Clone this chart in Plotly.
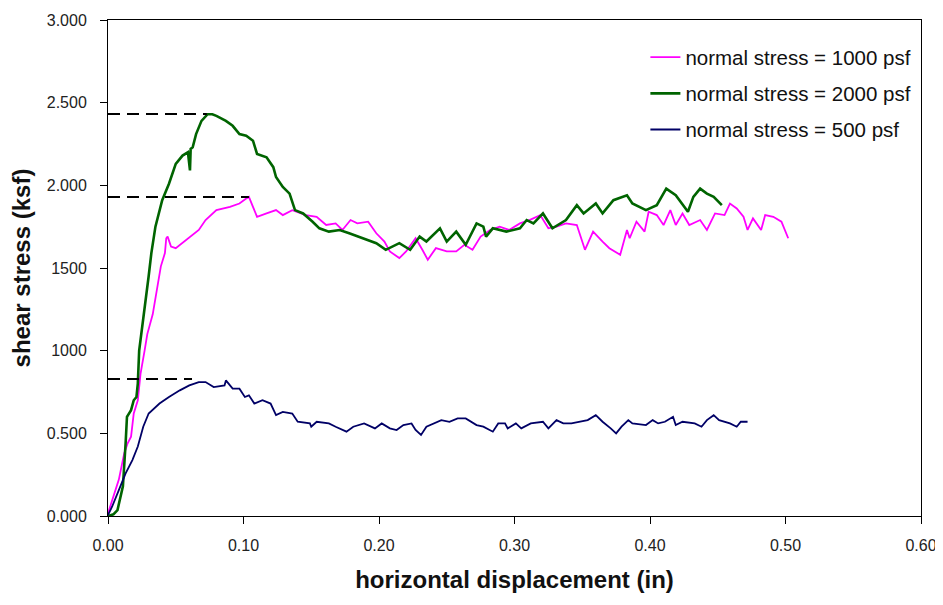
import plotly.graph_objects as go

# ---------------- data ----------------
series_names = ["normal stress = 1000 psf", "normal stress = 2000 psf", "normal stress = 500 psf"]
series_colors = ["#FF00FF", "#006400", "#000066"]

x_1000 = [0, 0.005, 0.008, 0.012, 0.0145, 0.017, 0.019, 0.022, 0.024, 0.027, 0.029, 0.033, 0.035,
          0.039, 0.042, 0.043, 0.044, 0.0465, 0.050, 0.058, 0.067, 0.072, 0.080, 0.090, 0.097,
          0.102, 0.104, 0.107, 0.110, 0.117, 0.124, 0.129, 0.136, 0.146, 0.154, 0.161, 0.168,
          0.173, 0.179, 0.184, 0.192, 0.198, 0.204, 0.208, 0.215, 0.220, 0.227, 0.232, 0.236,
          0.242, 0.250, 0.257, 0.263, 0.269, 0.275, 0.282, 0.289, 0.296, 0.304, 0.311, 0.319,
          0.325, 0.331, 0.338, 0.346, 0.352, 0.358, 0.365, 0.370, 0.378, 0.383, 0.385, 0.390,
          0.396, 0.399, 0.405, 0.410, 0.415, 0.419, 0.424, 0.429, 0.437, 0.442, 0.448, 0.455,
          0.459, 0.464, 0.469, 0.472, 0.476, 0.482, 0.485, 0.491, 0.497, 0.502]
y_1000 = [0.016, 0.14, 0.22, 0.38, 0.44, 0.48, 0.62, 0.70, 0.86, 1.00, 1.10, 1.22, 1.31,
          1.51, 1.59, 1.68, 1.69, 1.63, 1.62, 1.67, 1.73, 1.79, 1.85, 1.87, 1.89,
          1.92, 1.93, 1.87, 1.81, 1.83, 1.85, 1.82, 1.85, 1.82, 1.81, 1.76, 1.77,
          1.73, 1.79, 1.77, 1.78, 1.71, 1.66, 1.60, 1.56, 1.60, 1.68, 1.61, 1.55,
          1.62, 1.60, 1.60, 1.64, 1.61, 1.69, 1.73, 1.75, 1.73, 1.77, 1.79, 1.82,
          1.74, 1.75, 1.77, 1.76, 1.61, 1.72, 1.66, 1.62, 1.58, 1.73, 1.68, 1.78,
          1.72, 1.84, 1.82, 1.76, 1.85, 1.76, 1.83, 1.76, 1.79, 1.73, 1.83, 1.82,
          1.89, 1.86, 1.81, 1.73, 1.80, 1.73, 1.82, 1.81, 1.78, 1.68]

x_2000 = [0, 0.004, 0.007, 0.009, 0.011, 0.013, 0.014, 0.017, 0.019, 0.021, 0.022, 0.023, 0.026,
          0.028, 0.030, 0.032, 0.035, 0.040, 0.045, 0.050, 0.055, 0.059, 0.0605, 0.061, 0.0625,
          0.065, 0.069, 0.0735, 0.077, 0.080, 0.087, 0.092, 0.097, 0.102, 0.107, 0.110, 0.117,
          0.122, 0.124, 0.129, 0.134, 0.138, 0.144, 0.151, 0.156, 0.163, 0.171, 0.178, 0.188,
          0.198, 0.205, 0.215, 0.223, 0.230, 0.235, 0.245, 0.250, 0.257, 0.264, 0.272, 0.277,
          0.279, 0.284, 0.294, 0.304, 0.309, 0.314, 0.321, 0.328, 0.338, 0.346, 0.351, 0.360,
          0.365, 0.373, 0.383, 0.387, 0.397, 0.405, 0.412, 0.419, 0.428, 0.432, 0.437, 0.442,
          0.447, 0.453]
y_2000 = [0, 0.01, 0.036, 0.10, 0.18, 0.44, 0.60, 0.64, 0.70, 0.72, 0.80, 1.00, 1.18,
          1.31, 1.45, 1.59, 1.75, 1.91, 2.01, 2.13, 2.18, 2.20, 2.09, 2.22, 2.23,
          2.31, 2.39, 2.43, 2.43, 2.42, 2.39, 2.36, 2.31, 2.30, 2.27, 2.19, 2.17,
          2.11, 2.05, 1.99, 1.95, 1.85, 1.83, 1.78, 1.74, 1.72, 1.73, 1.71, 1.68,
          1.65, 1.61, 1.65, 1.61, 1.69, 1.66, 1.74, 1.66, 1.72, 1.64, 1.77, 1.75,
          1.69, 1.74, 1.72, 1.74, 1.79, 1.77, 1.83, 1.74, 1.79, 1.88, 1.83, 1.89,
          1.83, 1.91, 1.94, 1.89, 1.85, 1.88, 1.98, 1.94, 1.84, 1.93, 1.98, 1.95,
          1.93, 1.88]

x_500 = [0, 0.003, 0.008, 0.013, 0.018, 0.022, 0.026, 0.030, 0.038, 0.045, 0.053, 0.060, 0.067,
         0.072, 0.078, 0.086, 0.087, 0.092, 0.097, 0.101, 0.104, 0.108, 0.114, 0.120, 0.124,
         0.129, 0.136, 0.140, 0.149, 0.150, 0.154, 0.163, 0.168, 0.176, 0.181, 0.189, 0.197,
         0.202, 0.208, 0.213, 0.218, 0.224, 0.227, 0.231, 0.235, 0.241, 0.246, 0.252, 0.258,
         0.264, 0.272, 0.277, 0.284, 0.288, 0.293, 0.295, 0.301, 0.305, 0.312, 0.321, 0.325,
         0.331, 0.336, 0.342, 0.348, 0.354, 0.360, 0.365, 0.371, 0.375, 0.379, 0.384, 0.387,
         0.397, 0.402, 0.406, 0.411, 0.417, 0.419, 0.424, 0.433, 0.438, 0.442, 0.447, 0.451,
         0.459, 0.464, 0.467, 0.472]
y_500 = [0.006, 0.056, 0.157, 0.258, 0.338, 0.42, 0.54, 0.62, 0.68, 0.72, 0.76, 0.79, 0.81,
         0.81, 0.78, 0.79, 0.82, 0.77, 0.77, 0.72, 0.73, 0.68, 0.70, 0.68, 0.61,
         0.63, 0.62, 0.57, 0.56, 0.54, 0.57, 0.56, 0.54, 0.51, 0.54, 0.56, 0.53,
         0.56, 0.53, 0.52, 0.55, 0.56, 0.52, 0.49, 0.54, 0.56, 0.58, 0.57, 0.59,
         0.59, 0.55, 0.54, 0.51, 0.56, 0.56, 0.53, 0.56, 0.53, 0.56, 0.57, 0.53,
         0.58, 0.56, 0.56, 0.57, 0.58, 0.61, 0.57, 0.53, 0.50, 0.54, 0.58, 0.56,
         0.55, 0.58, 0.56, 0.57, 0.60, 0.55, 0.57, 0.56, 0.54, 0.58, 0.61, 0.58,
         0.56, 0.54, 0.57, 0.57]

# peak (dashed) reference lines: level and end displacement
peak_levels = [1.929, 2.431, 0.828]
peak_ends = [0.104, 0.073, 0.062]

x_tick_vals = [0, 0.1, 0.2, 0.3, 0.4, 0.5, 0.6]
x_tick_text = ["0.00", "0.10", "0.20", "0.30", "0.40", "0.50", "0.60"]
y_tick_vals = [0, 0.5, 1.0, 1.5, 2.0, 2.5, 3.0]
y_tick_text = ["0.000", "0.500", "1000", "1500", "2.000", "2.500", "3.000"]

# ---------------- figure ----------------
fig = go.Figure()

xs = [x_1000, x_2000, x_500]
ys = [y_1000, y_2000, y_500]
widths = [1.8, 2.6, 1.8]

for i in range(3):
    fig.add_trace(go.Scatter(
        x=xs[i], y=ys[i], mode="lines", name=series_names[i],
        line=dict(color=series_colors[i], width=widths[i]),
        legendgroup=f"g{i}",
    ))

for lvl, xe in zip(peak_levels, peak_ends):
    fig.add_trace(go.Scatter(
        x=[0, xe], y=[lvl, lvl], mode="lines", showlegend=False,
        line=dict(color="black", width=2, dash="12px,7px"),
    ))

FONT = "Liberation Sans, Arial, sans-serif"

fig.update_layout(
    width=943, height=605,
    margin=dict(l=100, r=30, t=12, b=97),
    paper_bgcolor="white", plot_bgcolor="white",
    font=dict(family=FONT, color="#222"),
    showlegend=True,
    legend=dict(
        x=0.661, y=0.965, xanchor="left", yanchor="top",
        bgcolor="white", borderwidth=0,
        font=dict(size=20.5, color="#111", family=FONT),
        tracegroupgap=6.5,
    ),
    xaxis=dict(
        range=[0, 0.6], tickvals=x_tick_vals, ticktext=x_tick_text,
        showgrid=False, zeroline=False, showline=True, linecolor="black", linewidth=1,
        mirror=True, ticks="outside", ticklen=7, tickcolor="black", automargin=False,
        tickfont=dict(size=16, color="#222"), ticklabelstandoff=8,
        title=dict(text="<b>horizontal displacement (in)</b>", font=dict(size=24, color="#111"), standoff=17),
    ),
    yaxis=dict(
        range=[0, 3.0], tickvals=y_tick_vals, ticktext=y_tick_text,
        showgrid=False, zeroline=False, showline=True, linecolor="black", linewidth=1,
        mirror=True, ticks="outside", ticklen=7, tickcolor="black", automargin=False,
        tickfont=dict(size=16, color="#222"), ticklabelstandoff=10,
        title=dict(text="<b>shear stress (ksf)</b>", font=dict(size=24, color="#111"), standoff=12),
    ),
)

fig.write_html("out.html")
